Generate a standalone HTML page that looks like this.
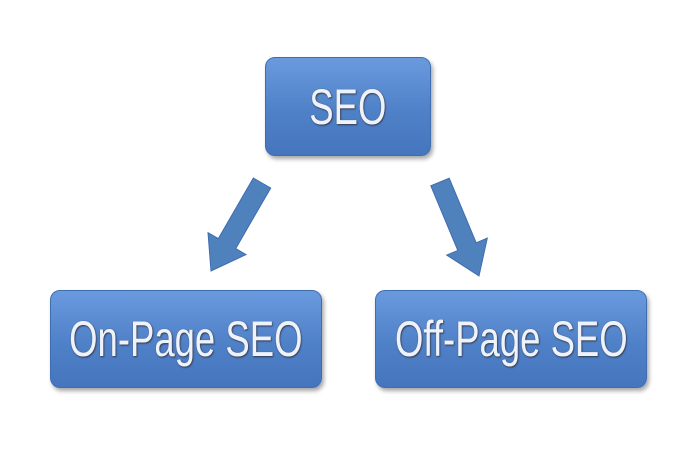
<!DOCTYPE html>
<html><head><style>
body{margin:0;width:700px;height:450px;background:#fff;position:relative;overflow:hidden;font-family:"Liberation Sans",sans-serif}
.b{position:absolute;border-radius:10px;background:linear-gradient(#6a9ade,#4f81c8 55%,#4575bd);box-shadow:2px 3px 4px rgba(0,0,0,.35);border:1px solid #3f6db0;box-sizing:border-box;display:flex;align-items:center;justify-content:center}
.t{color:#eef3fb;font-size:50px;transform:scaleX(.73);white-space:nowrap;text-shadow:0 0 1px #556,1px 1px 2px #334;letter-spacing:0}
</style></head><body>
<div class="b" style="left:265px;top:57px;width:166px;height:99px"><span class="t">SEO</span></div>
<div class="b" style="left:50px;top:290px;width:272px;height:98px"><span class="t">On-Page SEO</span></div>
<div class="b" style="left:375px;top:290px;width:272px;height:98px"><span class="t">Off-Page SEO</span></div>
<svg width="700" height="450" style="position:absolute;left:0;top:0">
<polygon fill="#4f81bd" stroke="#3f6db0" points="270.7,188 253.3,178 218.3,238.6 208,232.6 211,271 246,254.6 235.7,248.6"/>
<polygon fill="#4f81bd" stroke="#3f6db0" points="449.2,178.2 430.8,185.8 457.8,250.4 446.7,255.1 479,276 487.3,238.1 476.2,242.8"/>
</svg>
</body></html>
